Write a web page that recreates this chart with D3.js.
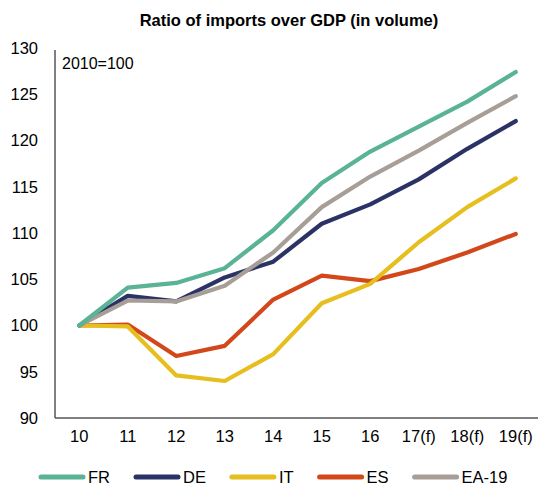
<!DOCTYPE html>
<html><head><meta charset="utf-8">
<script src="https://cdn.jsdelivr.net/npm/d3@7"></script>
<style>body{margin:0;background:#fff}svg{display:block;font-family:"Liberation Sans",Arial,sans-serif}</style>
</head><body><svg id="c" width="538" height="485"></svg>
<script>
const categories = ["10","11","12","13","14","15","16","17(f)","18(f)","19(f)"];
const FR   = [100,104.1,104.6,106.2,110.3,115.4,118.8,121.5,124.2,127.4];
const DE   = [100,103.2,102.6,105.2,106.9,111.0,113.1,115.8,119.1,122.1];
const IT   = [100,99.9,94.6,94.0,96.9,102.4,104.5,109.0,112.8,115.9];
const ES   = [100,100.1,96.7,97.8,102.8,105.4,104.8,106.1,107.9,109.9];
const EA19 = [100,102.7,102.6,104.3,107.9,112.8,116.1,118.9,121.9,124.8];
const seriesNames = ["FR","DE","IT","ES","EA-19"];
const yTicks = [90,95,100,105,110,115,120,125,130];
const colors = ["#5ab395","#2b3266","#e6be1e","#d2481a","#a79e97"];
const seriesData = [FR,DE,IT,ES,EA19];
const drawOrder = [3,2,1,4,0];

const svg = d3.select("#c");
const x = d3.scaleBand().domain(categories).range([55,540]);
const y = d3.scaleLinear().domain([90,130]).range([418,48]);

svg.append("text").attr("x",289).attr("y",26).attr("text-anchor","middle")
  .attr("font-weight","bold").attr("font-size",16.5).attr("fill","#000")
  .text("Ratio of imports over GDP (in volume)");

const ya = svg.append("g").attr("transform","translate(55,0)")
  .call(d3.axisLeft(y).tickValues(yTicks).tickSize(0).tickPadding(17));
ya.select(".domain").attr("stroke","#000").attr("d","M0,418V50");
ya.selectAll("text").attr("font-size",16.5).attr("fill","#000").attr("font-family","Liberation Sans, Arial, sans-serif");

const xa = svg.append("g").attr("transform","translate(0,418)")
  .call(d3.axisBottom(x).tickSize(0).tickPadding(12));
xa.select(".domain").attr("stroke","#555").attr("stroke-width",1.3).attr("d","M55,0H538");
xa.selectAll("text").attr("font-size",16.5).attr("fill","#000").attr("font-family","Liberation Sans, Arial, sans-serif");

svg.append("text").attr("x",62).attr("y",69).attr("font-size",16).attr("fill","#000").text("2010=100");

const line = d3.line().x((d,i)=>x(categories[i])+x.bandwidth()/2).y(d=>y(d));
drawOrder.forEach(k=>{
  svg.append("path").datum(seriesData[k]).attr("d",line).attr("fill","none")
    .attr("stroke",colors[k]).attr("stroke-width",4.2).attr("stroke-linejoin","round").attr("stroke-linecap","round");
});

let lx = 39;
const ly = 477;
seriesNames.forEach((n,k)=>{
  svg.append("line").attr("x1",lx+2).attr("x2",lx+44).attr("y1",ly).attr("y2",ly)
    .attr("stroke",colors[k]).attr("stroke-width",5).attr("stroke-linecap","round");
  const t = svg.append("text").attr("x",lx+49).attr("y",ly+6).attr("font-size",16.5).attr("fill","#000").text(n);
  lx = lx + 49 + t.node().getComputedTextLength() + 24;
});
</script></body></html>
